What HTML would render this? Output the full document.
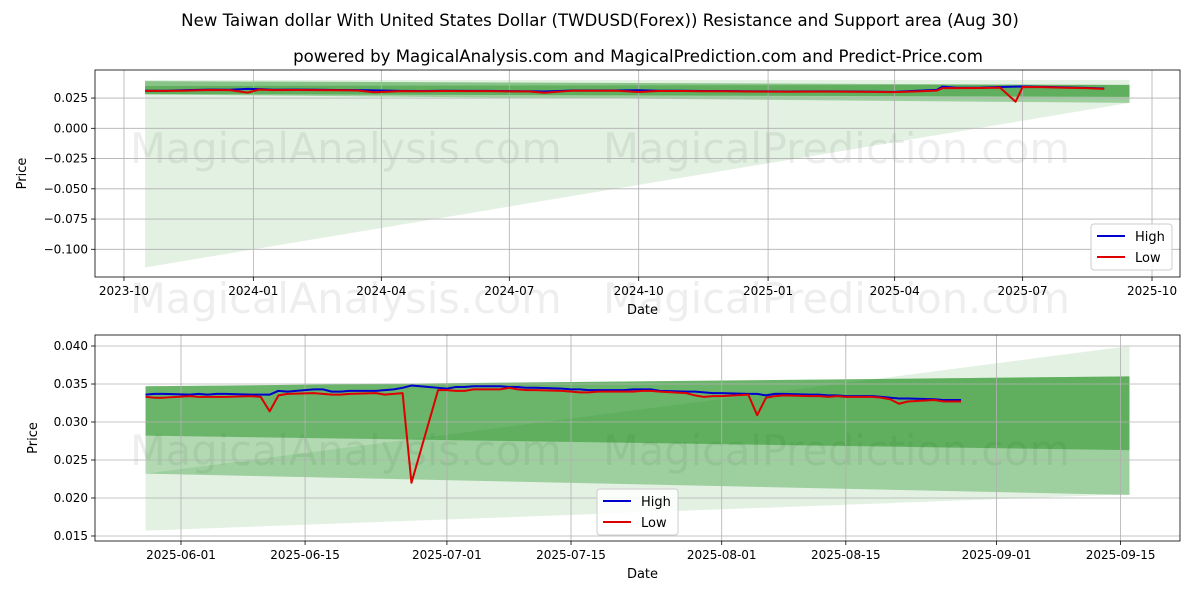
<!DOCTYPE html>
<html><head><meta charset="utf-8"><style>
body{margin:0;background:#fff;font-family:"Liberation Sans","DejaVu Sans",sans-serif}
svg text{font-family:"DejaVu Sans","Liberation Sans",sans-serif}
</style></head><body>
<svg id="c" width="1200" height="600" viewBox="0 0 1200 600" xmlns="http://www.w3.org/2000/svg">
<rect width="1200" height="600" fill="#fff"/>
<text x="600" y="26" text-anchor="middle" font-size="16.6">New Taiwan dollar With United States Dollar (TWDUSD(Forex)) Resistance and Support area (Aug 30)</text>
<text x="638" y="62" text-anchor="middle" font-size="16.6">powered by MagicalAnalysis.com and MagicalPrediction.com and Predict-Price.com</text>
<g id="top"></g>
<g id="bot"></g>
</svg>
<script>
// ---- top chart data ----
const topDates=["2023-10-16","2023-11-01","2023-11-15","2023-12-01","2023-12-15","2023-12-28","2024-01-05","2024-01-15","2024-02-01","2024-02-15","2024-03-01","2024-03-15","2024-03-27","2024-04-15","2024-05-01","2024-05-15","2024-06-01","2024-06-15","2024-07-01","2024-07-15","2024-07-26","2024-08-15","2024-09-01","2024-09-15","2024-10-01","2024-10-15","2024-11-01","2024-11-15","2024-12-01","2024-12-15","2025-01-01","2025-01-15","2025-02-01","2025-02-15","2025-03-01","2025-03-15","2025-04-01","2025-04-15","2025-05-01","2025-05-05","2025-05-15","2025-06-01","2025-06-15","2025-06-26","2025-07-01","2025-07-15","2025-08-01","2025-08-15","2025-08-28"];
const topHigh=[.0311,.0311,.0316,.0320,.0319,.0326,.0324,.0319,.0320,.0319,.0317,.0316,.0314,.0309,.0308,.0310,.0309,.0309,.0307,.0306,.0304,.0313,.0313,.0313,.0315,.0311,.0310,.0308,.0308,.0306,.0305,.0304,.0305,.0305,.0304,.0303,.0301,.0309,.0318,.0345,.0335,.0336,.0341,.0345,.0346,.0343,.0338,.0334,.0329];
const topLow=[.0309,.0309,.0312,.0317,.0316,.0295,.0320,.0316,.0317,.0316,.0315,.0313,.0298,.0307,.0306,.0308,.0307,.0307,.0305,.0304,.0294,.0311,.0311,.0311,.0300,.0308,.0308,.0306,.0306,.0304,.0303,.0302,.0303,.0303,.0302,.0301,.0299,.0304,.0312,.0332,.0332,.0333,.0336,.0220,.0341,.0340,.0335,.0332,.0326];
const topYTicks=[0.025,0,-0.025,-0.05,-0.075,-0.1];
const topYLabels=["0.025","0.000","−0.025","−0.050","−0.075","−0.100"];
const topXTicks=["2023-10-01","2024-01-01","2024-04-01","2024-07-01","2024-10-01","2025-01-01","2025-04-01","2025-07-01","2025-10-01"];
const topXLabels=["2023-10","2024-01","2024-04","2024-07","2024-10","2025-01","2025-04","2025-07","2025-10"];
// bands: [startTop,startBottom,endTop,endBottom]
const topBandStart="2023-10-16", topBandEnd="2025-09-15";
const topBands=[[0.040,-0.115,0.040,0.021],[0.035,0.028,0.036,0.021],[0.039,0.0284,0.0358,0.026]];
// ---- bottom chart data ----
const botDates=["2025-05-28","2025-05-29","2025-05-30","2025-06-02","2025-06-03","2025-06-04","2025-06-05","2025-06-06","2025-06-09","2025-06-10","2025-06-11","2025-06-12","2025-06-13","2025-06-16","2025-06-17","2025-06-18","2025-06-19","2025-06-20","2025-06-23","2025-06-24","2025-06-25","2025-06-26","2025-06-27","2025-06-30","2025-07-01","2025-07-02","2025-07-03","2025-07-04","2025-07-07","2025-07-08","2025-07-09","2025-07-10","2025-07-11","2025-07-14","2025-07-15","2025-07-16","2025-07-17","2025-07-18","2025-07-21","2025-07-22","2025-07-23","2025-07-24","2025-07-25","2025-07-28","2025-07-29","2025-07-30","2025-07-31","2025-08-01","2025-08-04","2025-08-05","2025-08-06","2025-08-07","2025-08-08","2025-08-11","2025-08-12","2025-08-13","2025-08-14","2025-08-15","2025-08-18","2025-08-19","2025-08-20","2025-08-21","2025-08-22","2025-08-25","2025-08-26","2025-08-27","2025-08-28"];
const botHigh=[.0336,.0337,.0337,.0336,.0337,.0336,.0337,.0337,.0336,.0336,.0336,.0341,.0340,.0343,.0343,.0340,.0340,.0341,.0341,.0342,.0343,.0345,.0348,.0345,.0344,.0346,.0346,.0347,.0347,.0346,.0346,.0345,.0345,.0344,.0343,.0343,.0342,.0342,.0342,.0343,.0343,.0343,.0341,.0340,.0340,.0339,.0338,.0338,.0337,.0337,.0335,.0337,.0337,.0336,.0336,.0335,.0335,.0334,.0334,.0333,.0332,.0331,.0331,.0330,.0329,.0329,.0329];
const botLow=[.0333,.0332,.0332,.0334,.0333,.0333,.0333,.0333,.0334,.0333,.0314,.0335,.0337,.0338,.0337,.0336,.0336,.0337,.0338,.0336,.0337,.0338,.0220,.0342,.0342,.0341,.0341,.0343,.0343,.0345,.0343,.0342,.0342,.0341,.0340,.0339,.0339,.0340,.0340,.0340,.0341,.0341,.0340,.0338,.0335,.0333,.0334,.0334,.0336,.0309,.0332,.0334,.0335,.0334,.0334,.0333,.0334,.0333,.0333,.0332,.0330,.0324,.0327,.0329,.0327,.0327,.0327];
const botYTicks=[0.040,0.035,0.030,0.025,0.020,0.015];
const botYLabels=["0.040","0.035","0.030","0.025","0.020","0.015"];
const botXTicks=["2025-06-01","2025-06-15","2025-07-01","2025-07-15","2025-08-01","2025-08-15","2025-09-01","2025-09-15"];
const botXLabels=["2025-06-01","2025-06-15","2025-07-01","2025-07-15","2025-08-01","2025-08-15","2025-09-01","2025-09-15"];
const botBandStart="2025-05-28", botBandEnd="2025-09-16";
const botBands=[[0.0232,0.0157,0.040,0.0205],[0.0347,0.0232,0.0360,0.0204],[0.0347,0.0282,0.0360,0.0263]];

const NS="http://www.w3.org/2000/svg";
const day=s=>typeof s==="number"?s:Date.parse(s)/86400000;
function mk(p,tag,at){const e=document.createElementNS(NS,tag);for(const k in at)e.setAttribute(k,at[k]);p.appendChild(e);return e;}
const bandOp=[0.11,0.3,0.4];

function panel(g,cfg){
  const {L,R,T,B,d0,d1,v0,v1}=cfg;
  const X=s=>L+(day(s)-day(d0))/(day(d1)-day(d0))*(R-L);
  const Y=v=>T+(v1-v)/(v1-v0)*(B-T);
  for(const w of cfg.wm){const t=mk(g,'text',{x:w[1],y:w[2],'font-size':41.5,fill:'#000','fill-opacity':0.065});t.textContent=w[0];
    
    }
  const xs=X(cfg.bs),xe=X(cfg.be);
  cfg.bands.forEach((b,i)=>{const p=mk(g,'polygon',{points:`${xs},${Y(b[0])} ${xe},${Y(b[2])} ${xe},${Y(b[3])} ${xs},${Y(b[1])}`,fill:'green','fill-opacity':bandOp[i]});
    
    });
  cfg.xt.forEach((d,i)=>{const x=X(d);mk(g,'line',{x1:x,x2:x,y1:T,y2:B,stroke:'#b0b0b0','stroke-width':0.8});
    mk(g,'line',{x1:x,x2:x,y1:B,y2:B+4,stroke:'#000','stroke-width':0.8});
    const t=mk(g,'text',{x:x,y:B+18,'text-anchor':'middle','font-size':12});t.textContent=cfg.xl[i];
    
    });
  cfg.yt.forEach((v,i)=>{const y=Y(v);mk(g,'line',{x1:L,x2:R,y1:y,y2:y,stroke:'#b0b0b0','stroke-width':0.8});
    mk(g,'line',{x1:L-4,x2:L,y1:y,y2:y,stroke:'#000','stroke-width':0.8});
    const t=mk(g,'text',{x:L-7,y:y+4,'text-anchor':'end','font-size':12});t.textContent=cfg.yl[i];
    
    });
  const line=(vals,col,name)=>{const p=mk(g,'polyline',{points:cfg.dates.map((d,i)=>X(d)+','+Y(vals[i])).join(' '),fill:'none',stroke:col,'stroke-width':2,'stroke-linejoin':'round'});
    
    };
  line(cfg.hi,'#0000cc','high-line');line(cfg.lo,'#dd0000','low-line');
  const fr=mk(g,'rect',{x:L,y:T,width:R-L,height:B-T,fill:'none',stroke:'#000','stroke-width':0.8});
  
  
  const xl=mk(g,'text',{x:(L+R)/2+5,y:B+37,'text-anchor':'middle','font-size':13});xl.textContent='Date';
  
  
  const yl=mk(g,'text',{x:cfg.ylx,y:(T+B)/2,'text-anchor':'middle','font-size':13,transform:`rotate(-90 ${cfg.ylx} ${(T+B)/2})`});yl.textContent='Price';
  
  
  const [lx,ly]=cfg.leg;
  const lg=mk(g,'g',{});
  
  
  mk(lg,'rect',{x:lx,y:ly,width:81,height:46,rx:3,fill:'#fff','fill-opacity':0.85,stroke:'#ccc'});
  [['High','#0000cc'],['Low','#dd0000']].forEach((e,i)=>{const yy=ly+12+i*21;
    mk(lg,'line',{x1:lx+6,x2:lx+34,y1:yy,y2:yy,stroke:e[1],'stroke-width':2});
    const t=mk(lg,'text',{x:lx+44,y:yy+5,'font-size':13});t.textContent=e[0];
    
    });
}
panel(document.getElementById('top'),{L:95,R:1180,T:70,B:277,d0:day("2023-10-01")-20.6,d1:day("2025-10-01")+19.9,v0:-0.1229,v1:0.0482,
  wm:[["MagicalAnalysis.com",130,163],["MagicalPrediction.com",603,163],["MagicalAnalysis.com",130,313],["MagicalPrediction.com",603,313]],
  bs:topBandStart,be:topBandEnd,bands:topBands,xt:topXTicks,xl:topXLabels,yt:topYTicks,yl:topYLabels,
  dates:topDates,hi:topHigh,lo:topLow,ylx:26,leg:[1091,224]});
panel(document.getElementById('bot'),{L:95,R:1180,T:335,B:541,d0:day("2025-05-22")+0.3,d1:day("2025-09-21")+0.7,v0:0.01434,v1:0.04145,
  wm:[["MagicalAnalysis.com",130,465],["MagicalPrediction.com",603,465]],
  bs:botBandStart,be:botBandEnd,bands:botBands,xt:botXTicks,xl:botXLabels,yt:botYTicks,yl:botYLabels,
  dates:botDates,hi:botHigh,lo:botLow,ylx:37,leg:[597,489]});
</script>
</body></html>
